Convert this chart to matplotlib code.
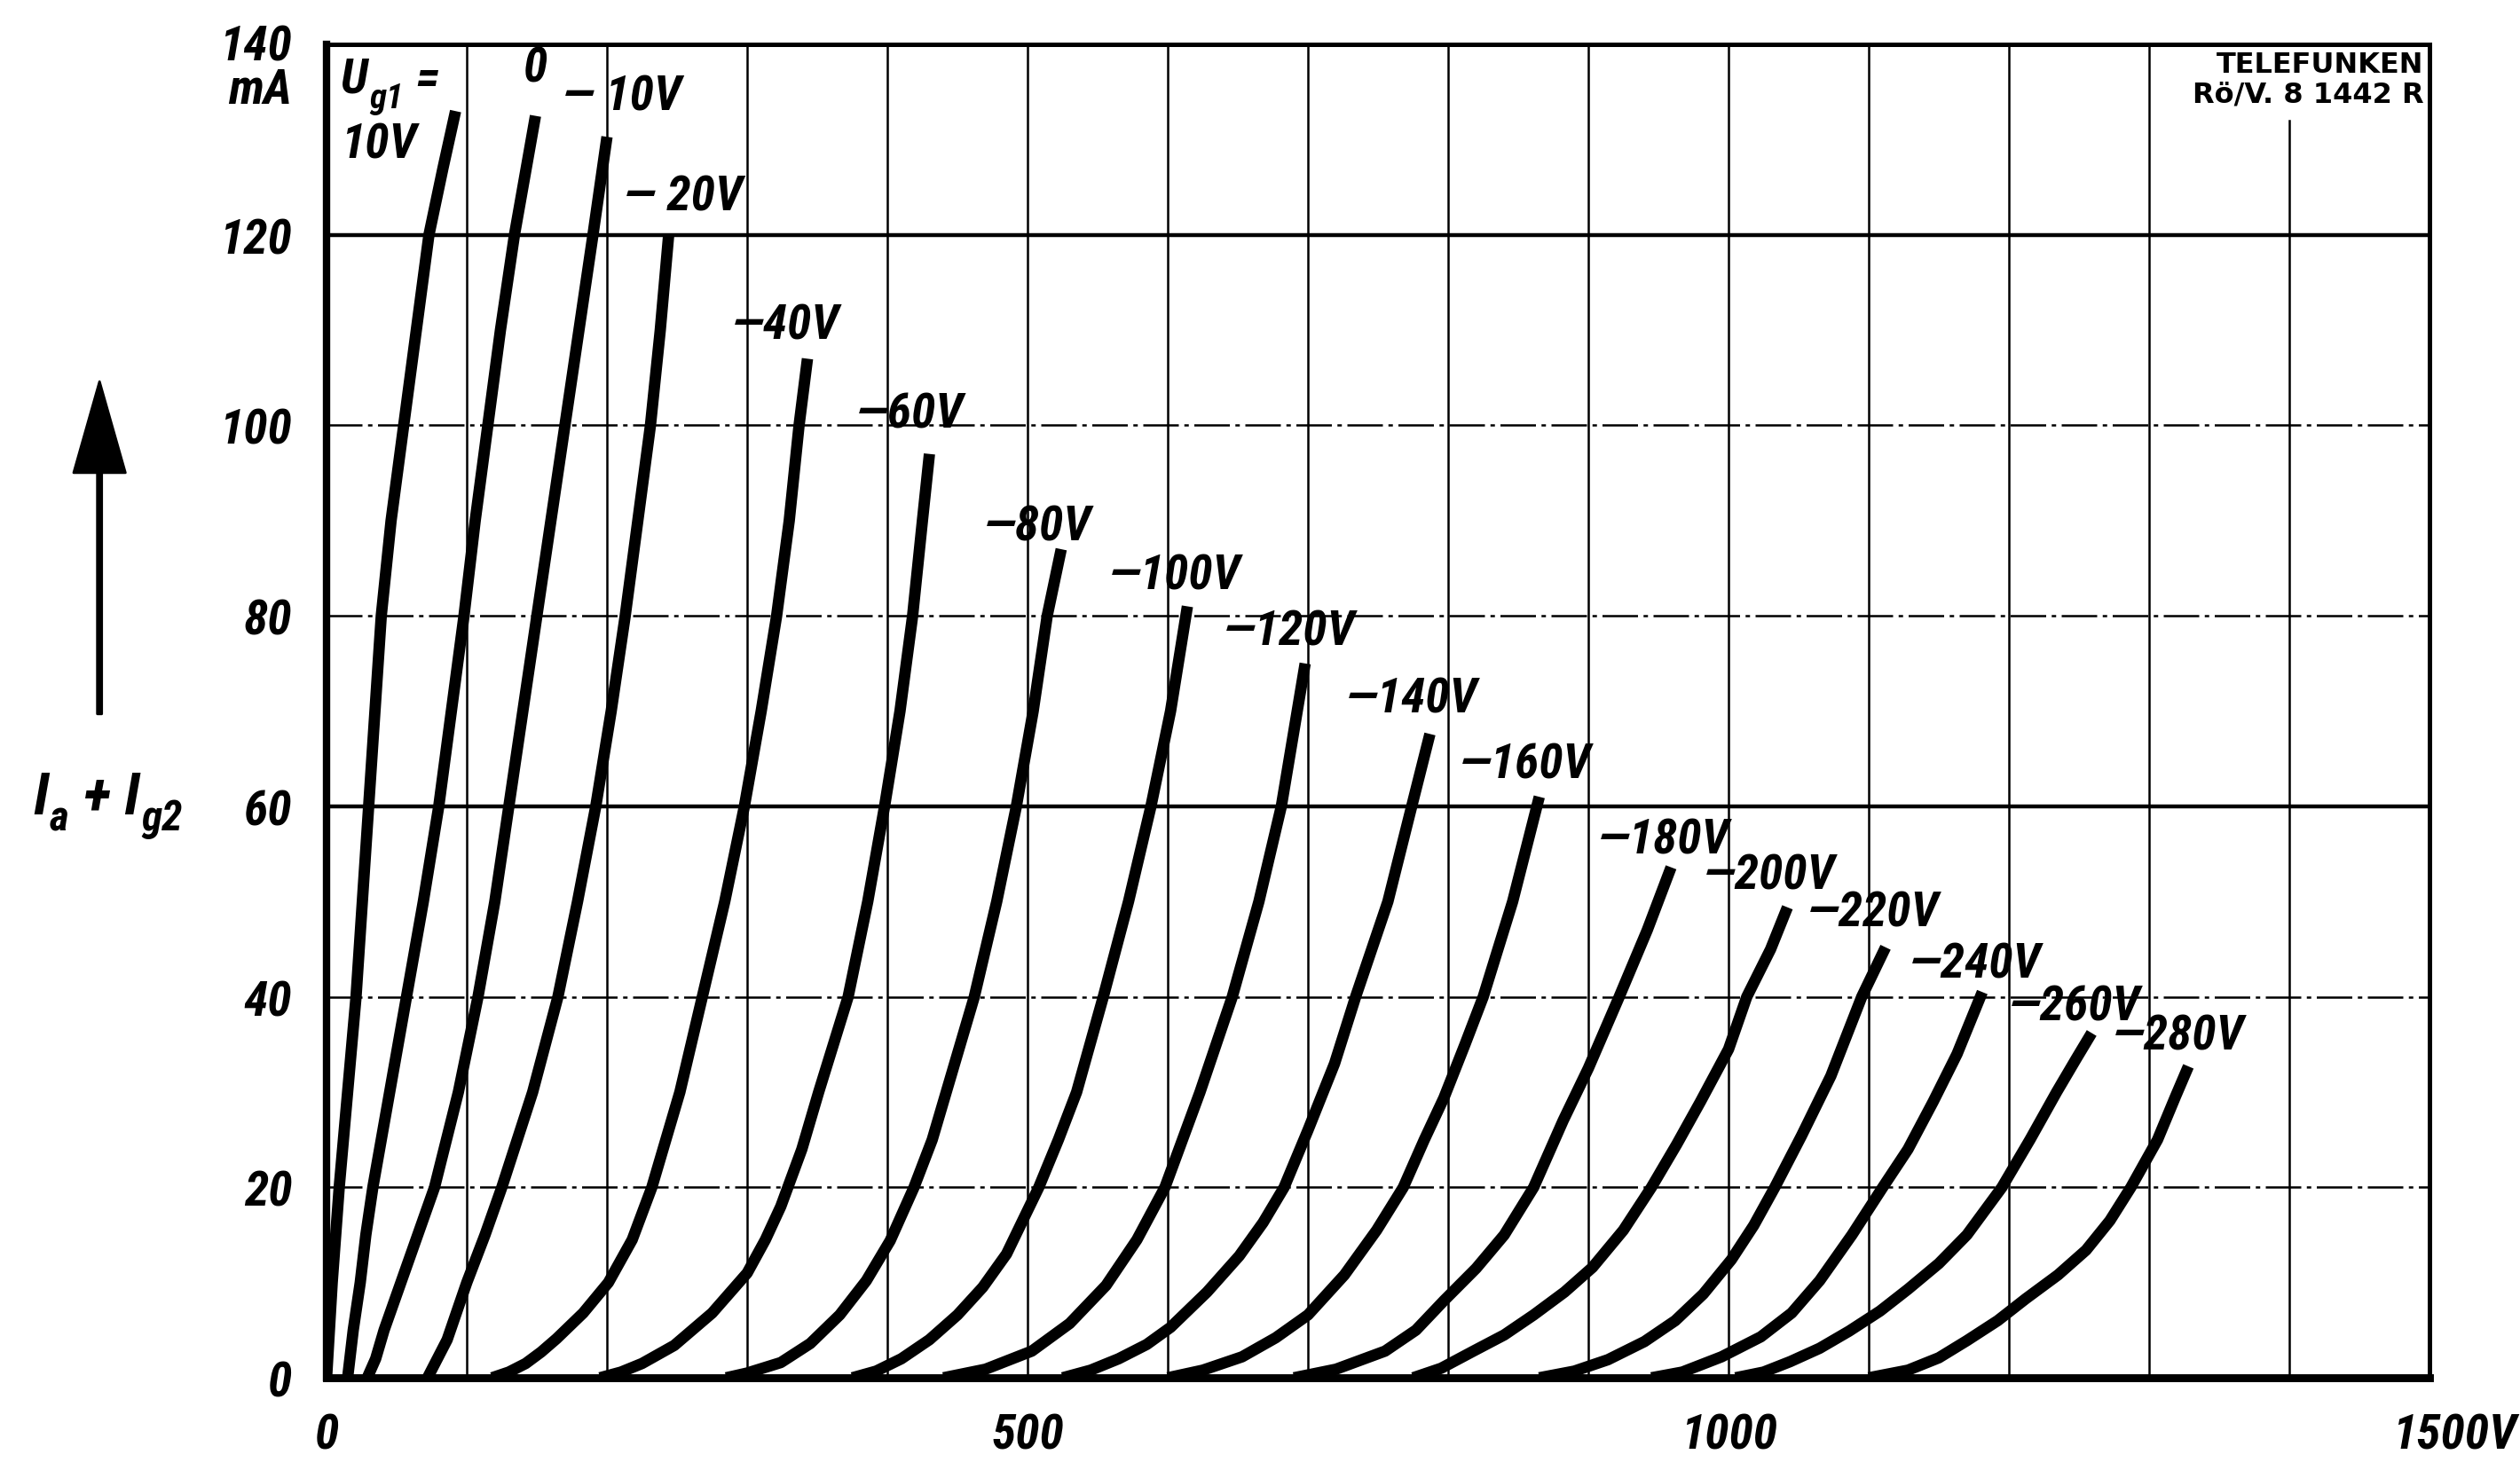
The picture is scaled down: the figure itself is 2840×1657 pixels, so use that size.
import matplotlib
matplotlib.use('Agg')
import matplotlib.pyplot as plt
from matplotlib import font_manager
from matplotlib.transforms import ScaledTranslation

# ---------- fonts: prefer a condensed face, else a narrow normal face at smaller size ----------
def find_face(family, stretch):
    fp = font_manager.FontProperties(family=family, stretch=stretch, style='italic', weight='bold')
    try:
        path = font_manager.findfont(fp, fallback_to_default=False)
    except Exception:
        return False
    if stretch == 'condensed':
        return 'ondensed' in path or 'arrow' in path
    return True

FAM, STRETCH, SCALE = 'DejaVu Sans', 'normal', 0.8
for fam, stretch, scale in [('Liberation Sans Narrow', 'normal', 1.0),
                            ('Roboto Condensed', 'normal', 1.0),
                            ('DejaVu Sans', 'condensed', 0.92),
                            ('Roboto', 'normal', 0.86)]:
    if find_face(fam, stretch):
        FAM, STRETCH, SCALE = fam, stretch, scale
        break
plt.rcParams['font.family'] = [FAM, 'DejaVu Sans']
plt.rcParams['font.stretch'] = STRETCH

# ---------- data (Ua in V, Ia+Ig2 in mA) ----------
ug1_values = ['+10', '0', '-10', '-20', '-40', '-60', '-80', '-100', '-120',
              '-140', '-160', '-180', '-200', '-220', '-240', '-260', '-280']

ua_p10 = [0, 2, 4, 6.5, 9, 15, 21, 25.5, 30, 34.5, 39, 46, 55, 64, 73, 83, 92]
ia_p10 = [0, 5, 10, 15, 20, 30, 40, 50, 60, 70, 80, 90, 100, 110, 120, 127, 133]

ua_0 = [15, 19, 24, 28, 33, 45, 57, 69, 80, 89, 98, 106, 115, 124, 134, 149]
ia_0 = [0, 5, 10, 15, 20, 30, 40, 50, 60, 70, 80, 90, 100, 110, 120, 132.5]

ua_m10 = [29, 35, 41, 53, 65, 77, 94, 108, 120, 130, 140, 150, 160, 170, 180, 190, 200]
ia_m10 = [0, 2, 5, 10, 15, 20, 30, 40, 50, 60, 70, 80, 90, 100, 110, 120, 130.3]

ua_m20 = [72, 79, 86, 100, 113, 125, 147, 165, 179, 192, 203, 213, 222, 231, 238, 244]
ia_m20 = [0, 2, 4, 10, 15, 20, 30, 40, 50, 60, 70, 80, 90, 100, 110, 120]

ua_m40 = [118, 130, 142, 153, 164, 183, 201, 218, 232, 252, 268, 284, 298, 310, 321, 330, 337, 343]
ia_m40 = [0, 0.6, 1.5, 2.7, 4.1, 6.8, 10, 14.5, 20, 30, 40, 50, 60, 70, 80, 90, 100, 107]

ua_m60 = [195, 210, 225, 248, 275, 300, 313, 324, 339, 351, 372, 386, 398, 409, 418, 425, 430]
ia_m60 = [0, 0.6, 1.5, 3.4, 6.8, 11, 14.5, 18, 24, 30, 40, 50, 60, 70, 80, 90, 97]

ua_m80 = [285, 300, 324, 345, 366, 385, 402, 419, 432, 442, 462, 478, 492, 504, 514, 524]
ia_m80 = [0, 0.5, 1.6, 3.6, 6.6, 10.2, 14.4, 20, 25, 30, 40, 50, 60, 70, 80, 87]

ua_m100 = [375, 392, 410, 430, 450, 468, 485, 508, 522, 535, 554, 572, 588, 602, 614]
ia_m100 = [0, 0.7, 2, 4, 6.6, 9.5, 13, 20, 25, 30, 40, 50, 60, 70, 81]

ua_m120 = [440, 470, 503, 530, 556, 578, 598, 623, 646, 665, 681, 698]
ia_m120 = [0, 0.9, 2.8, 5.7, 9.7, 14.5, 20, 30, 40, 50, 60, 75]

ua_m140 = [525, 545, 565, 585, 602, 628, 651, 668, 683, 700, 719, 734, 757, 774, 787]
ia_m140 = [0, 0.8, 2, 3.5, 5.3, 9, 12.8, 16.3, 20, 26, 33, 40, 50, 60, 67.6]

ua_m160 = [600, 625, 653, 677, 700, 726, 749, 768, 783, 797, 812, 825, 846, 865]
ia_m160 = [0, 0.8, 2.2, 4.2, 6.6, 10.8, 15.5, 20, 25, 29.4, 35, 40, 50, 61]

ua_m180 = [690, 720, 755, 777, 797, 820, 840, 861, 882, 900, 922, 942, 959]
ia_m180 = [0, 0.9, 2.8, 5, 8.1, 11.5, 15, 20, 27, 32.5, 40, 47, 53.6]

ua_m200 = [775, 795, 818, 840, 861, 883, 903, 925, 945, 963, 980, 1000, 1013, 1030, 1042]
ia_m200 = [0, 1, 2.8, 4.5, 6.6, 9, 11.6, 15.5, 20, 24.5, 29, 34.5, 40, 45, 49.4]

ua_m220 = [865, 890, 914, 940, 962, 982, 1002, 1018, 1033, 1052, 1073, 1095, 1112]
ia_m220 = [0, 0.7, 1.9, 3.8, 6, 8.8, 12.4, 16, 20, 25.4, 31.7, 40, 45.2]

ua_m240 = [945, 967, 995, 1023, 1045, 1065, 1088, 1110, 1128, 1146, 1163, 1181]
ia_m240 = [0, 0.6, 2.2, 4.3, 6.8, 10.2, 15, 20, 24, 29, 34, 40.5]

ua_m260 = [1005, 1025, 1044, 1065, 1086, 1108, 1128, 1150, 1170, 1195, 1215, 1234, 1248, 1259]
ia_m260 = [0, 0.6, 1.7, 3.1, 4.9, 7, 9.3, 12, 15, 20, 25, 30, 33.5, 36.2]

ua_m280 = [1100, 1128, 1150, 1170, 1192, 1212, 1235, 1255, 1272, 1287, 1306, 1319, 1328]
ia_m280 = [0, 0.8, 2.1, 3.9, 6, 8.3, 10.8, 13.4, 16.5, 20, 25, 29.6, 32.7]

curve_ua = [ua_p10, ua_0, ua_m10, ua_m20, ua_m40, ua_m60, ua_m80, ua_m100, ua_m120,
            ua_m140, ua_m160, ua_m180, ua_m200, ua_m220, ua_m240, ua_m260, ua_m280]
curve_ia = [ia_p10, ia_0, ia_m10, ia_m20, ia_m40, ia_m60, ia_m80, ia_m100, ia_m120,
            ia_m140, ia_m160, ia_m180, ia_m200, ia_m220, ia_m240, ia_m260, ia_m280]

# curve labels and their anchors (left edge / vertical centre, data units)
label_texts = ['0', '\u2014 10V', '\u2014 20V', '\u201440V', '\u201460V', '\u201480V', '\u2014100V',
               '\u2014120V', '\u2014140V', '\u2014160V', '\u2014180V', '\u2014200V', '\u2014220V',
               '\u2014240V', '\u2014260V', '\u2014280V']
label_pos = [(149, 137.5), (168, 134.6), (212, 124.0), (289, 110.5), (378, 101.2), (469, 89.4),
             (558, 84.3), (640, 78.4), (727, 71.3), (808, 64.4), (907, 56.5), (982, 52.8),
             (1056, 48.9), (1129, 43.5), (1200, 39.0), (1274, 35.9)]

x_ticks = [0, 500, 1000, 1500]
x_tick_labels = ['0', '500', '1000', '1500V']
y_ticks = [0, 20, 40, 60, 80, 100, 120, 140]
y_tick_labels = ['0', '20', '40', '60', '80', '100', '120', '140\nmA']
grid_v = [100, 200, 300, 400, 500, 600, 700, 800, 900, 1000, 1100, 1200, 1300, 1400]
grid_h_light = [20, 40, 80, 100]
grid_h_heavy = [60, 120]

FS = 20 * SCALE          # label / tick size
FS_SUB = 14 * SCALE      # subscript size

# ---------- figure ----------
fig = plt.figure(figsize=(14.2, 8.29), dpi=200)
ax = fig.add_axes([0.1296, 0.0627, 0.8345, 0.9065])
ax.set_xlim(0, 1500)
ax.set_ylim(0, 140)

for v in grid_v:
    top = 132 if v == 1400 else 140
    ax.plot([v, v], [0, top], color='black', lw=0.9, zorder=1)
for h in grid_h_light:
    ax.axhline(h, color='black', lw=0.9, ls=(0, (16, 2.5, 2, 2.5)), zorder=1)
for h in grid_h_heavy:
    ax.axhline(h, color='black', lw=1.6, zorder=1)

for ua, ia in zip(curve_ua, curve_ia):
    ax.plot(ua, ia, color='black', lw=4.6, solid_capstyle='butt',
            solid_joinstyle='round', zorder=3)

lab_kw = dict(fontsize=FS, fontstyle='italic', fontweight='bold', color='black', zorder=4)
for txt, (x, y) in zip(label_texts, label_pos):
    ha = 'center' if txt == '0' else 'left'
    ax.text(x, y, txt, ha=ha, va='center', **lab_kw)


def compound(first, pieces, size_main, size_sub, drop):
    """Chain text pieces after `first`: pieces = [(text, is_sub), ...]."""
    prev = first
    prev_sub = False
    for txt, is_sub in pieces:
        dy = 0
        if is_sub and not prev_sub:
            dy = -drop
        elif prev_sub and not is_sub:
            dy = drop
        prev = ax.annotate(txt, xy=(1, 0), xycoords=prev, xytext=(0.5, dy),
                           textcoords='offset points', ha='left', va='bottom',
                           fontsize=size_sub if is_sub else size_main,
                           fontstyle='italic', fontweight='bold', annotation_clip=False)
        prev_sub = is_sub
    return prev

# "U_g1 =" and "10V"
u = ax.text(10, 136.4, 'U', ha='left', va='center', **lab_kw)
compound(u, [('g1', True), (' =', False)], FS, FS_SUB, 5)
ax.text(10, 129.5, '10V', ha='left', va='center', **lab_kw)

# manufacturer tag
ax.text(1496, 137.9, 'TELEFUNKEN', ha='right', va='center', fontsize=11.5,
        fontweight='bold', family=['DejaVu Sans'], stretch='normal', zorder=4)
ax.text(1496, 134.8, 'R\u00f6/V. 8 1442 R', ha='right', va='center', fontsize=11.5,
        fontweight='bold', family=['DejaVu Sans'], stretch='normal', zorder=4)

# axes styling
for side, lw in [('left', 3.0), ('bottom', 3.2), ('top', 1.8), ('right', 1.8)]:
    ax.spines[side].set_linewidth(lw)
    ax.spines[side].set_color('black')
ax.set_xticks(x_ticks)
ax.set_xticklabels(x_tick_labels)
ax.set_yticks(y_ticks)
ax.set_yticklabels(y_tick_labels)
ax.tick_params(length=0, labelsize=FS)
ax.tick_params(axis='x', pad=14)
ax.tick_params(axis='y', pad=14)
for lab in ax.get_xticklabels() + ax.get_yticklabels():
    lab.set_fontstyle('italic')
    lab.set_fontweight('bold')
last = ax.get_xticklabels()[-1]
last.set_horizontalalignment('left')
last.set_transform(last.get_transform() + ScaledTranslation(-15 / 72, 0, fig.dpi_scale_trans))
# top y label "140 / mA": first line centred on the 140 level
top_lab = ax.get_yticklabels()[-1]
top_lab.set_verticalalignment('top')
top_lab.set_linespacing(0.9)
top_lab.set_transform(top_lab.get_transform() + ScaledTranslation(0, FS * 0.42 / 72, fig.dpi_scale_trans))

# y-axis arrow and quantity label
ax.annotate('', xy=(0.0395, 0.740), xycoords='figure fraction',
            xytext=(0.0395, 0.514), textcoords='figure fraction',
            arrowprops=dict(facecolor='black', edgecolor='black', width=1.8,
                            headwidth=21, headlength=37, shrink=0))
ylab = fig.text(0.013, 0.457, 'I', ha='left', va='center', fontsize=24 * SCALE,
                fontstyle='italic', fontweight='bold')
compound(ylab, [('a', True), (' + I', False), ('g2', True)], 24 * SCALE, 17 * SCALE, 5)

fig.savefig('out.png', dpi=200, facecolor='white')
